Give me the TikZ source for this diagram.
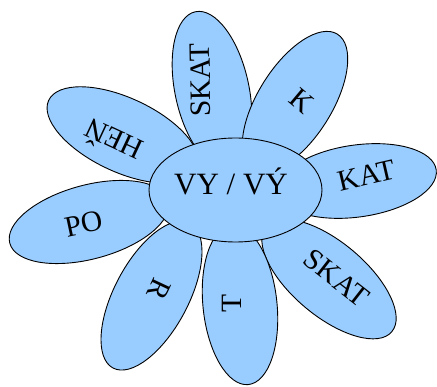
\documentclass[tikz,border=0pt]{standalone}
\usepackage{fontspec}
\setmainfont{Liberation Serif}
\usetikzlibrary{shapes.geometric}
\definecolor{petalblue}{HTML}{99CCFF}
\tikzset{
  petal/.style={ellipse, draw=black, line width=0.9pt, fill=petalblue, inner sep=0pt, minimum width=164pt, minimum height=74pt},
  petallabel/.style={inner sep=0pt, text height=0.662em, text depth=0pt, font=\fontsize{29.5}{31}\selectfont},
  heart/.style={ellipse, draw=black, line width=0.9pt, fill=petalblue, inner sep=0pt, minimum width=173pt, minimum height=104pt},
  heartlabel/.style={inner sep=0pt, text height=0.662em, text depth=0pt, font=\fontsize{31}{33}\selectfont}
}
\begin{document}
\begin{tikzpicture}[x=1pt,y=1pt]
\useasboundingbox (0,0) rectangle (437,-387);
% petals, clockwise from the top
\node[petal, minimum width=160pt, rotate=102] (p1) at (212,-90) {};
\node[petal, minimum width=160pt, rotate=58] (p2) at (295,-102) {};
\node[petal, minimum width=160pt, minimum height=72pt, rotate=8] (p3) at (357,-181) {};
\node[petal, rotate=-40] (p4) at (329,-279) {};
\node[petal, minimum width=160pt, rotate=-84] (p5) at (240,-305) {};
\node[petal, rotate=-118] (p6) at (151.5,-295.6) {};
\node[petal, rotate=15] (p7) at (89,-222) {};
\node[petal, rotate=-25] (p8) at (123,-135) {};
% centre
\node[heart] (c) at (235.5,-190) {};
% labels
\node[petallabel, rotate=91] (l1) at (207,-80) {SKAT};
\node[petallabel, rotate=-40] (l2) at (298,-106) {K};
\node[petallabel, rotate=13] (l3) at (368,-182) {KAT};
\node[petallabel, rotate=-38] (l4) at (333,-283) {SKAT};
\node[petallabel, rotate=90] (l5) at (238,-303) {T};
\node[petallabel, rotate=-115] (l6) at (153,-287) {R};
\node[petallabel, rotate=12] (l7) at (85,-230) {PO};
\node[petallabel, rotate=155] (l8) at (117,-133) {HEŇ};
\node[heartlabel] (cl) at (231,-191) {VY / VÝ};
\end{tikzpicture}
\end{document}
